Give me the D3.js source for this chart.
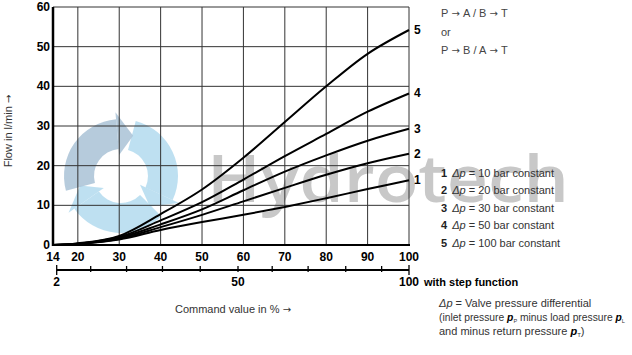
<!DOCTYPE html>
<html>
<head>
<meta charset="utf-8">
<script src="https://cdn.jsdelivr.net/npm/d3@7"></script>
<style>
  body { margin: 0; background: #fff; }
  text { font-family: "Liberation Sans", Arial, sans-serif; }
  .arr { font-family: "DejaVu Sans", sans-serif; font-size: 10px; }
</style>
</head>
<body>
<svg id="chart" width="632" height="355"></svg>
<script>
// values
var command = [14, 20, 30, 40, 50, 60, 70, 80, 90, 100];
var flow1 = [0, 0.3, 1.4, 3.8, 5.8, 7.6, 9.6, 11.8, 14.1, 16.3];
var flow2 = [0, 0.3, 1.6, 4.5, 7.6, 11, 14.4, 17.7, 20.6, 23];
var flow3 = [0, 0.3, 1.8, 5.2, 9, 13.8, 18.5, 22.6, 26.3, 29.3];
var flow4 = [0, 0.3, 2, 6.2, 10.8, 16.5, 22.4, 28, 33.6, 38.2];
var flow5 = [0, 0.4, 2.3, 7.8, 14, 22, 31, 40, 48.2, 54.2];
var seriesNames = ["1", "2", "3", "4", "5"];
var pressures = [10, 20, 30, 50, 100];

var xTicks = [14, 20, 30, 40, 50, 60, 70, 80, 90, 100];
var yTicks = [0, 10, 20, 30, 40, 50, 60];
var stepTicks = [2, 11, 20.5, 30, 40, 50, 60, 70.5, 81.5, 92, 100];
var stepLabels = [2, 50, 100];

var svg = d3.select("#chart");

var x = d3.scaleLinear().domain([14, 100]).range([53, 409]);
var y = d3.scaleLinear().domain([0, 60]).range([245, 7]);
var xs = d3.scaleLinear().domain([2, 50, 100]).range([56.7, 238, 409]);

// watermark (behind everything)
var wm = svg.append("g").attr("class", "watermark");
var arc = d3.arc().innerRadius(27).outerRadius(57);
var logo = wm.append("g").attr("transform", "translate(121,176)");
[0, 120, 240].forEach(function(a, i) {
  var col = i == 2 ? "#a9c2d6" : "#b3dbef";
  var s = (a + 15) * Math.PI / 180;
  var e = s + 100 * Math.PI / 180;
  logo.append("path")
      .attr("d", arc({startAngle: s, endAngle: e}))
      .attr("fill", col).attr("opacity", 0.85);
  // arrow tip
  var r0 = 21, r1 = 64, rt = 42, tip = e + 0.38;
  logo.append("path")
      .attr("d", "M" + (r0 * Math.sin(e)) + "," + (-r0 * Math.cos(e)) +
                 "L" + (r1 * Math.sin(e)) + "," + (-r1 * Math.cos(e)) +
                 "L" + (rt * Math.sin(tip)) + "," + (-rt * Math.cos(tip)) + "Z")
      .attr("fill", col).attr("opacity", 0.85);
});
wm.append("text")
    .attr("x", 207).attr("y", 202)
    .attr("textLength", 362).attr("lengthAdjust", "spacingAndGlyphs")
    .style("font-family", "'Open Sans', sans-serif")
    .style("font-weight", 600)
    .style("font-size", "66px")
    .attr("fill", "#c8c8c8")
    .text("Hydrotech");

// grid
var grid = svg.append("g").attr("stroke", "#333").attr("stroke-width", 1);
xTicks.slice(1).forEach(function(t) {
  grid.append("line").attr("x1", x(t)).attr("x2", x(t)).attr("y1", y(60)).attr("y2", y(0));
});
yTicks.slice(1).forEach(function(t) {
  grid.append("line").attr("x1", x(14)).attr("x2", x(100)).attr("y1", y(t)).attr("y2", y(t));
});

// main axes lines
svg.append("line").attr("x1", x(14)).attr("x2", x(14)).attr("y1", y(60)).attr("y2", y(0) + 1)
    .attr("stroke", "#000").attr("stroke-width", 2.5);
svg.append("line").attr("x1", x(14)).attr("x2", x(100) + 1).attr("y1", y(0)).attr("y2", y(0))
    .attr("stroke", "#000").attr("stroke-width", 2);

// tick labels
svg.append("g").selectAll("text").data(xTicks).join("text")
    .attr("x", function(d) { return x(d); })
    .attr("y", 261)
    .attr("text-anchor", "middle")
    .style("font-size", "12px").style("font-weight", "bold")
    .text(function(d) { return d; });
svg.append("g").selectAll("text").data(yTicks).join("text")
    .attr("x", 50)
    .attr("y", function(d) { return y(d) + 4; })
    .attr("text-anchor", "end")
    .style("font-size", "12px").style("font-weight", "bold")
    .text(function(d) { return d; });

// curves
var line = d3.line()
    .x(function(d) { return x(d[0]); })
    .y(function(d) { return y(d[1]); })
    .curve(d3.curveCatmullRom.alpha(0.5));
var series = [flow1, flow2, flow3, flow4, flow5];
series.forEach(function(s, i) {
  var pts = command.map(function(c, j) { return [c, s[j]]; });
  svg.append("path").attr("d", line(pts))
      .attr("fill", "none").attr("stroke", "#000").attr("stroke-width", 2);
  svg.append("text")
      .attr("x", 414).attr("y", y(s[s.length - 1]) + 4)
      .style("font-size", "12px").style("font-weight", "bold")
      .text(seriesNames[i]);
});

// step function axis
svg.append("line").attr("x1", xs(2)).attr("x2", xs(100)).attr("y1", 270).attr("y2", 270)
    .attr("stroke", "#000").attr("stroke-width", 2);
svg.append("g").selectAll("line").data(stepTicks).join("line")
    .attr("x1", function(d) { return xs(d); }).attr("x2", function(d) { return xs(d); })
    .attr("y1", function(d, i) { return (i == 0 || i == stepTicks.length - 1) ? 265 : 266; })
    .attr("y2", function(d, i) { return (i == 0 || i == stepTicks.length - 1) ? 275 : 272; })
    .attr("stroke", "#000").attr("stroke-width", 1.3);
svg.append("g").selectAll("text").data(stepLabels).join("text")
    .attr("x", function(d) { return xs(d); })
    .attr("y", 286)
    .attr("text-anchor", "middle")
    .style("font-size", "12px").style("font-weight", "bold")
    .text(function(d) { return d; });
svg.append("text").attr("x", 424).attr("y", 286)
    .style("font-size", "11px").style("font-weight", "bold")
    .text("with step function");

// text with a readable arrow glyph
function arrowText(sel, parts) {
  parts.forEach(function(p, i) {
    if (i > 0) sel.append("tspan").attr("class", "arr").text(" \u2192 ");
    sel.append("tspan").text(p);
  });
}

// axis titles
var xt = svg.append("text").attr("x", 233).attr("y", 313).attr("text-anchor", "middle")
    .style("font-size", "11px").attr("fill", "#333");
arrowText(xt, ["Command value in %", ""]);
var yt = svg.append("text")
    .attr("transform", "translate(12,131) rotate(-90)")
    .attr("text-anchor", "middle")
    .style("font-size", "11px").attr("fill", "#333");
arrowText(yt, ["Flow in l/min", ""]);

// flow direction notes
var notes = [["P", "A / B", "T"], ["or"], ["P", "B / A", "T"]];
notes.forEach(function(n, i) {
  var t = svg.append("text").attr("x", 441).attr("y", 17 + i * 18.5)
      .style("font-size", "11px").attr("fill", "#444");
  arrowText(t, n);
});

// legend
var leg = svg.append("g");
pressures.forEach(function(p, i) {
  var t = leg.append("text").attr("x", 441).attr("y", 177 + i * 17.4)
      .style("font-size", "11px").attr("fill", "#333");
  t.append("tspan").style("font-weight", "bold").attr("fill", "#222").text(seriesNames[i]);
  t.append("tspan").attr("dx", 5).style("font-style", "italic").text("\u0394p");
  t.append("tspan").text(" = " + p + " bar constant");
});

// pressure differential note
var n1 = svg.append("text").attr("x", 439).attr("y", 307).style("font-size", "11px").attr("fill", "#333");
n1.append("tspan").style("font-style", "italic").text("\u0394p");
n1.append("tspan").text(" = Valve pressure differential");
var n2 = svg.append("text").attr("x", 439).attr("y", 321).style("font-size", "11px").attr("fill", "#333")
    .attr("textLength", 186).attr("lengthAdjust", "spacingAndGlyphs");
n2.append("tspan").text("(inlet pressure ");
n2.append("tspan").style("font-weight", "bold").style("font-style", "italic").attr("fill", "#000").text("p");
n2.append("tspan").style("font-size", "6px").attr("dy", 2).text("P");
n2.append("tspan").attr("dy", -2).text(" minus load pressure ");
n2.append("tspan").style("font-weight", "bold").style("font-style", "italic").attr("fill", "#000").text("p");
n2.append("tspan").style("font-size", "6px").attr("dy", 2).text("L");
var n3 = svg.append("text").attr("x", 439).attr("y", 335).style("font-size", "11px").attr("fill", "#333");
n3.append("tspan").text("and minus return pressure ");
n3.append("tspan").style("font-weight", "bold").style("font-style", "italic").attr("fill", "#000").text("p");
n3.append("tspan").style("font-size", "6px").attr("dy", 2).text("T");
n3.append("tspan").attr("dy", -2).text(")");
</script>
</body>
</html>
